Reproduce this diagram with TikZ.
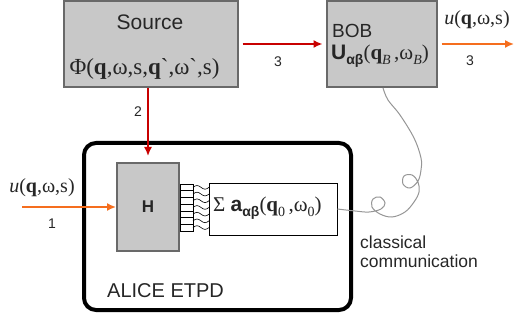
\documentclass[tikz,border=0pt]{standalone}
\usepackage{fontspec}
\setmainfont{Liberation Serif}
\setsansfont{Liberation Sans}
\newfontface\gravefont{Liberation Serif}[Ligatures=TeXOff]
\usetikzlibrary{arrows.meta}

\definecolor{boxgray}{RGB}{200,200,200}
\definecolor{edgegray}{RGB}{105,105,105}
\definecolor{sigred}{RGB}{200,0,0}
\definecolor{sigorange}{RGB}{245,110,30}
\definecolor{wiregray}{RGB}{150,150,150}

\newcommand{\fs}[1]{\fontsize{#1}{#1}\selectfont}
\newcommand{\gr}{{\gravefont\symbol{96}}}

\tikzset{
  graybox/.style={draw=edgegray, line width=2pt, fill=boxgray, inner sep=0pt},
  whitebox/.style={draw=black, line width=0.8pt, fill=white, inner sep=0pt},
  alicebox/.style={draw=black, line width=4pt, rounded corners=12pt, inner sep=0pt},
  redarrow/.style={draw=sigred, line width=1.6pt, -{Latex[length=9pt,width=8pt]}},
  orangearrow/.style={draw=sigorange, line width=1.6pt, -{Latex[length=9pt,width=8pt]}},
  lbl/.style={font=\sffamily\fs{14}, inner sep=0pt, text=black!85},
  formula/.style={inner sep=0pt, text=black!85},
  curl/.style={draw=wiregray, line width=1pt},
  wire/.style={draw=black, line width=0.6pt},
}

\begin{document}
\begin{tikzpicture}[x=1pt, y=-1pt]
  \useasboundingbox (0,0) rectangle (515,321);

  % receiver enclosure
  \node[alicebox, minimum width=267pt, minimum height=167pt] (alice) at (217.5,226.5) {};

  % boxes
  \node[graybox, minimum width=174pt, minimum height=86pt] (src) at (150.5,44) {};
  \node[graybox, minimum width=110pt, minimum height=86pt] (bob) at (381.5,44) {};
  \node[graybox, minimum width=62pt, minimum height=88pt] (H) at (148,207) {};
  \node[whitebox, minimum width=128pt, minimum height=52pt] (sum) at (273,209) {};

  % box texts
  \node[font=\sffamily\fs{21}, inner sep=0pt, text=black!85] (srcname) at (150,22) {Source};
  \node[formula, font=\fs{23}] (srcstate) at (144.5,69)
    {Φ(\textbf{q},ω,s,\textbf{q}\gr,ω\gr,s)};
  \node[font=\sffamily\fs{19}, inner sep=0pt, anchor=west, text=black!85] (bobname) at (332,31) {BOB};
  \node[formula, font=\fs{21}, anchor=west] (bobop) at (331,56)
    {{\sffamily\bfseries U\raisebox{-4.5pt}{\fs{14}αβ}}(\textbf{q}\raisebox{-4.5pt}{\fs{14}\textit{B}}\,,ω\raisebox{-4.5pt}{\fs{14}\textit{B}})};
  \node[font=\sffamily\bfseries\fs{17}, inner sep=0pt, text=black!85] (Hname) at (148,207) {H};
  \node[formula, font=\fs{21}, anchor=west] (sumtext) at (213,208)
    {Σ {\sffamily\bfseries a\raisebox{-4.5pt}{\fs{14}αβ}}(\textbf{q}\raisebox{-4.5pt}{\fs{14}0}\,,ω\raisebox{-4.5pt}{\fs{14}0})};
  \node[font=\sffamily\fs{20}, inner sep=0pt, anchor=west, text=black!85] (alicename) at (107,291) {ALICE ETPD};
  \node[font=\sffamily\fs{17.5}, inner sep=0pt, anchor=north west, align=left, text=black!85] (cc) at (360,236)
    {classical\\[1pt]communication};

  % signal paths
  \draw[redarrow, shorten <=4pt, shorten >=3pt] (src) -- (bob);
  \draw[redarrow, shorten >=6pt] (src.south -| H) -- (H.north);
  \coordinate (inA) at (22,207);
  \draw[orangearrow] (inA) -- (H.west);
  \coordinate (outB) at (514,44);
  \draw[orangearrow, shorten <=4pt] (bob) -- (outB);

  % path labels
  \node[lbl] (l3a) at (278,62) {3};
  \node[lbl] (l2) at (138,112) {2};
  \node[lbl] (l1) at (52,224) {1};
  \node[lbl] (l3b) at (470,61) {3};
  \node[formula, font=\fs{20}] (uin) at (42,188) {\textit{u}(\textbf{q},ω,s)};
  \node[formula, font=\fs{20}] (uout) at (477,20) {\textit{u}(\textbf{q},ω,s)};

  % multimode connector between H and the sum box
  \foreach \i in {0,...,6} {
    \draw[wire, fill=white] (180,184+6.7*\i) rectangle (193,184+6.7*\i+6.7);
    \draw[wire] (193,184+6.7*\i+3.35) sin (197,184+6.7*\i+1.5) cos (201,184+6.7*\i+3.35)
      sin (205,184+6.7*\i+5.2) cos (209,184+6.7*\i+3.35);
  }

  % classical channel
  \draw[curl] plot[smooth, tension=0.6] coordinates {
    (sum.east) (355,211) (369,212) (381,209) (385,203) (380,197) (373,199)
    (372,207) (380,214) (392,217) (405,212) (414,202) (419,192) (418,182)
    (412,175) (404,176) (403,184) (410,188) (418,181) (421,170) (421,158)
    (414,138) (400,115) (388,100) ([xshift=1.5pt]bob.south)
  };
\end{tikzpicture}
\end{document}
